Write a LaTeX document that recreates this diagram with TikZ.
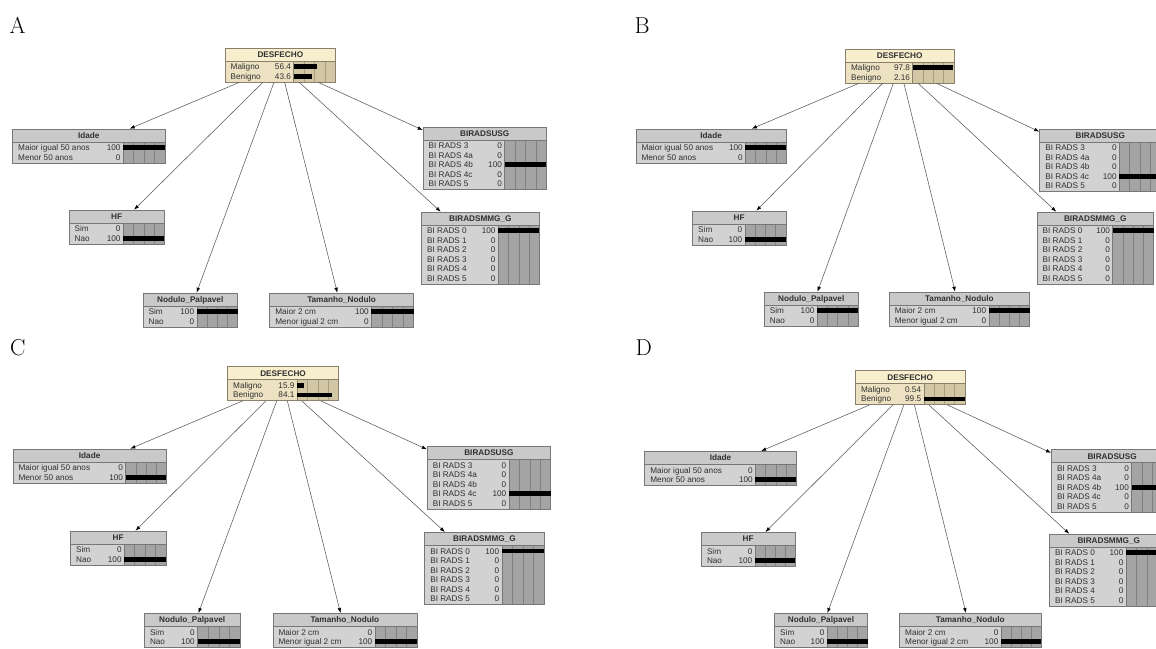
\documentclass[tikz,border=0pt]{standalone}
\usepackage{fontspec}
\usetikzlibrary{fit,arrows.meta}
\newfontfamily\netfont{Liberation Sans}
\definecolor{gbody}{HTML}{D2D2D2}
\definecolor{gtitle}{HTML}{C9C9C9}
\definecolor{gbar}{HTML}{A4A4A4}
\definecolor{ggrid}{HTML}{808080}
\definecolor{gborder}{HTML}{777777}
\definecolor{tbody}{HTML}{ECE2C2}
\definecolor{ttitle}{HTML}{F7EECD}
\definecolor{tbar}{HTML}{D2C7A5}
\definecolor{tgrid}{HTML}{A89C7E}
\definecolor{tborder}{HTML}{8A806C}
\definecolor{txt}{HTML}{303030}
\definecolor{arrline}{HTML}{5A5A5A}
\tikzset{
  rowtxt/.style={font=\netfont\fontsize{8.2}{9}\selectfont, inner sep=0pt, text=txt},
  ttltxt/.style={font=\netfont\bfseries\fontsize{8.2}{9}\selectfont, inner sep=0pt, text=txt},
  panellbl/.style={font=\fontsize{23}{23}\selectfont, inner sep=0pt, anchor=base west},
  arr/.style={draw=arrline, line width=0.55pt, -{Latex[length=5pt,width=3.6pt,color=black]}},
  boxfit/.style={inner sep=0pt, draw=\bnborder, line width=0.6pt},
}
\newcommand{\grayscheme}{\def\bnbody{gbody}\def\bntitle{gtitle}\def\bnbar{gbar}\def\bngrid{ggrid}\def\bnborder{gborder}}
\newcommand{\tanscheme}{\def\bnbody{tbody}\def\bntitle{ttitle}\def\bnbar{tbar}\def\bngrid{tgrid}\def\bnborder{tborder}}
% #1 name, #2 x1, #3 y1, #4 x2, #5 bar start x, #6 rows, #7 title
\newcommand{\bnbox}[7]{%
  \pgfmathsetmacro\bnyb{#3+15+9.5*#6}%
  \pgfmathsetmacro\bny{#3+13}%
  \def\bnname{#1}\def\bnx{#2}\def\bnbx{#5}\def\bnex{#4}%
  \fill[\bnbody] (#2,#3) rectangle (#4,\bnyb);
  \fill[\bntitle] (#2,#3) rectangle (#4,\bny);
  \fill[\bnbar] (#5,\bny) rectangle (#4,\bnyb);
  \foreach \k in {1,2,3}{\draw[\bngrid, line width=0.5pt] ({#5+(#4-#5)*\k/4},\bny) -- ({#5+(#4-#5)*\k/4},\bnyb);}
  \draw[\bnborder, line width=0.5pt] (#2,\bny) -- (#4,\bny) (#5,\bny) -- (#5,\bnyb);
  \node[ttltxt, anchor=base] (#1-t) at ({(#2+#4)/2},#3+9.5) {#7};
  \node[boxfit, fit={(#2,#3) (#4,\bnyb)}] (#1) {};
}
% #1 index, #2 label, #3 value, #4 fraction
\newcommand{\bnrow}[4]{%
  \pgfmathsetmacro\bnry{\bny+1+9.5*(#1-0.5)}%
  \node[rowtxt, anchor=base west] (\bnname-l#1) at (\bnx+5.5,\bnry+3) {#2};
  \node[rowtxt, anchor=base east] (\bnname-v#1) at (\bnbx-2.5,\bnry+3) {#3};
  \ifdim #4pt>0pt
    \fill[black] (\bnbx,\bnry-2.3) rectangle ({\bnbx+(\bnex-\bnbx)*#4},\bnry+2.3);
  \fi
}
\newcommand{\usgrows}[5]{%
  \bnrow{1}{BI RADS 3}{#1}{\ifnum#1=100 1\else 0\fi}%
  \bnrow{2}{BI RADS 4a}{#2}{\ifnum#2=100 1\else 0\fi}%
  \bnrow{3}{BI RADS 4b}{#3}{\ifnum#3=100 1\else 0\fi}%
  \bnrow{4}{BI RADS 4c}{#4}{\ifnum#4=100 1\else 0\fi}%
  \bnrow{5}{BI RADS 5}{#5}{\ifnum#5=100 1\else 0\fi}%
}
\newcommand{\mmgrows}{%
  \bnrow{1}{BI RADS 0}{100}{1}%
  \bnrow{2}{BI RADS 1}{0}{0}%
  \bnrow{3}{BI RADS 2}{0}{0}%
  \bnrow{4}{BI RADS 3}{0}{0}%
  \bnrow{5}{BI RADS 4}{0}{0}%
  \bnrow{6}{BI RADS 5}{0}{0}%
}
\begin{document}
\begin{tikzpicture}[x=1pt,y=-1pt]
\useasboundingbox (0,0) rectangle (1156,648);
\fill[white] (0,0) rectangle (1156,648);
\clip (0,0) rectangle (1156,648);

% ================= Panel A =================
\node[panellbl] (lblA) at (9.5,33) {A};
\tanscheme
\bnbox{desA}{225}{48}{335.7}{293.6}{2}{DESFECHO}
\bnrow{1}{Maligno}{56.4}{0.564}
\bnrow{2}{Benigno}{43.6}{0.436}
\grayscheme
\bnbox{idA}{12.5}{129}{165}{123.2}{2}{Idade}
\bnrow{1}{Maior igual 50 anos}{100}{1}
\bnrow{2}{Menor 50 anos}{0}{0}
\bnbox{hfA}{69}{210}{164.3}{123.2}{2}{HF}
\bnrow{1}{Sim}{0}{0}
\bnrow{2}{Nao}{100}{1}
\bnbox{npA}{143}{293}{237.5}{196.8}{2}{Nodulo\_Palpavel}
\bnrow{1}{Sim}{100}{1}
\bnrow{2}{Nao}{0}{0}
\bnbox{tnA}{269.6}{293}{413.6}{371.4}{2}{Tamanho\_Nodulo}
\bnrow{1}{Maior 2 cm}{100}{1}
\bnrow{2}{Menor igual 2 cm}{0}{0}
\bnbox{usA}{423}{127}{546.4}{504.6}{5}{BIRADSUSG}
\usgrows{0}{0}{100}{0}{0}
\bnbox{mmA}{421.4}{212}{539.3}{498.2}{6}{BIRADSMMG\_G}
\mmgrows
\foreach \c in {idA,hfA,npA,tnA,mmA,usA}{\draw[arr] (desA) -- (\c);}

% ================= Panel B =================
\node[panellbl] (lblB) at (634.5,33) {B};
\tanscheme
\bnbox{desB}{845.4}{49}{953.9}{912.7}{2}{DESFECHO}
\bnrow{1}{Maligno}{97.8}{0.978}
\bnrow{2}{Benigno}{2.16}{0}
\grayscheme
\bnbox{idB}{635.9}{129}{786.3}{745.4}{2}{Idade}
\bnrow{1}{Maior igual 50 anos}{100}{1}
\bnrow{2}{Menor 50 anos}{0}{0}
\bnbox{hfB}{692.5}{211}{785.9}{745}{2}{HF}
\bnrow{1}{Sim}{0}{0}
\bnrow{2}{Nao}{100}{1}
\bnbox{npB}{764.2}{292}{858.3}{817.1}{2}{Nodulo\_Palpavel}
\bnrow{1}{Sim}{100}{1}
\bnrow{2}{Nao}{0}{0}
\bnbox{tnB}{889.2}{292}{1029.6}{988.8}{2}{Tamanho\_Nodulo}
\bnrow{1}{Maior 2 cm}{100}{1}
\bnrow{2}{Menor igual 2 cm}{0}{0}
\bnbox{usB}{1039.6}{129}{1161}{1119.3}{5}{BIRADSUSG}
\usgrows{0}{0}{0}{100}{0}
\bnbox{mmB}{1037}{212}{1153.5}{1112.7}{6}{BIRADSMMG\_G}
\mmgrows
\foreach \c in {idB,hfB,npB,tnB,mmB,usB}{\draw[arr] (desB) -- (\c);}

% ================= Panel C =================
\node[panellbl] (lblC) at (10,355) {C};
\tanscheme
\bnbox{desC}{227.5}{366.7}{338.6}{297.1}{2}{DESFECHO}
\bnrow{1}{Maligno}{15.9}{0.159}
\bnrow{2}{Benigno}{84.1}{0.841}
\grayscheme
\bnbox{idC}{12.9}{449}{166.4}{125.7}{2}{Idade}
\bnrow{1}{Maior igual 50 anos}{0}{0}
\bnrow{2}{Menor 50 anos}{100}{1}
\bnbox{hfC}{70.4}{531}{166}{124.3}{2}{HF}
\bnrow{1}{Sim}{0}{0}
\bnrow{2}{Nao}{100}{1}
\bnbox{npC}{144.3}{613.3}{240}{197.5}{2}{Nodulo\_Palpavel}
\bnrow{1}{Sim}{0}{0}
\bnrow{2}{Nao}{100}{1}
\bnbox{tnC}{272.9}{613.3}{416.8}{375}{2}{Tamanho\_Nodulo}
\bnrow{1}{Maior 2 cm}{0}{0}
\bnrow{2}{Menor igual 2 cm}{100}{1}
\bnbox{usC}{427.1}{446.3}{550.7}{508.9}{5}{BIRADSUSG}
\usgrows{0}{0}{0}{100}{0}
\bnbox{mmC}{424.6}{532.3}{544.3}{501.8}{6}{BIRADSMMG\_G}
\mmgrows
\foreach \c in {idC,hfC,npC,tnC,mmC,usC}{\draw[arr] (desC) -- (\c);}

% ================= Panel D =================
\node[panellbl] (lblD) at (635.5,355) {D};
\tanscheme
\bnbox{desD}{855.4}{370.7}{964.9}{923.8}{2}{DESFECHO}
\bnrow{1}{Maligno}{0.54}{0}
\bnrow{2}{Benigno}{99.5}{0.995}
\grayscheme
\bnbox{idD}{644.7}{451.3}{796.2}{755.4}{2}{Idade}
\bnrow{1}{Maior igual 50 anos}{0}{0}
\bnrow{2}{Menor 50 anos}{100}{1}
\bnbox{hfD}{701.3}{532.3}{795}{755}{2}{HF}
\bnrow{1}{Sim}{0}{0}
\bnrow{2}{Nao}{100}{1}
\bnbox{npD}{774.5}{613.3}{867.5}{827.1}{2}{Nodulo\_Palpavel}
\bnrow{1}{Sim}{0}{0}
\bnrow{2}{Nao}{100}{1}
\bnbox{tnD}{899.5}{613.3}{1041}{1001}{2}{Tamanho\_Nodulo}
\bnrow{1}{Maior 2 cm}{0}{0}
\bnrow{2}{Menor igual 2 cm}{100}{1}
\bnbox{usD}{1051.3}{449.7}{1173}{1131.5}{5}{BIRADSUSG}
\usgrows{0}{0}{100}{0}{0}
\bnbox{mmD}{1049.5}{534}{1168}{1126}{6}{BIRADSMMG\_G}
\mmgrows
\foreach \c in {idD,hfD,npD,tnD,mmD,usD}{\draw[arr] (desD) -- (\c);}
\end{tikzpicture}
\end{document}
